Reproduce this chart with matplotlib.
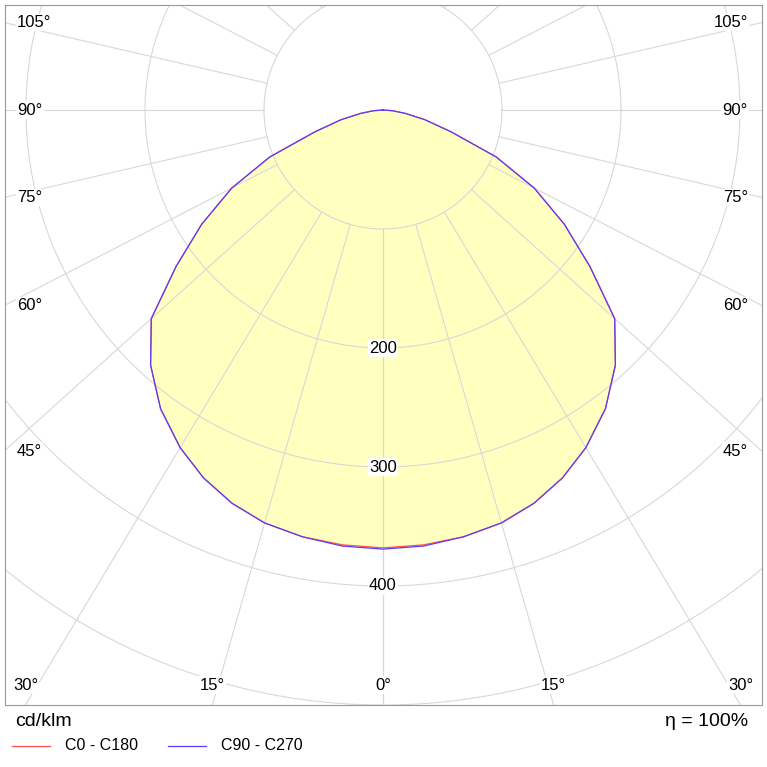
import numpy as np
import matplotlib.pyplot as plt

plt.rcParams['font.family'] = 'Liberation Sans'

# luminous intensity distribution, cd/klm, angle from nadir
angles = [0, 5, 10, 15, 20, 25, 30, 35, 40, 45, 50, 55, 60, 65, 70, 75, 80, 85, 90]
c0_c180 = [368, 367, 365, 361, 354, 344, 331, 313, 290, 262, 218, 180, 143, 103, 60, 36, 19, 8, 0]
c90_c270 = [369, 368, 365, 361, 354, 344, 331, 313, 290, 262, 218, 180, 143, 103, 60, 36, 19, 8, 0]
ring_labels = [200, 300, 400]
angle_labels = [0, 15, 30, 45, 60, 75, 90, 105]

# diagram's angle scale: gamma -> drawn angle below horizontal
gamma_ref = [0, 15, 30, 45, 60, 75, 90]
drawn_ref = [90, 74, 59, 42, 27.3, 13, 0]

def drawn(g):
    g = np.asarray(g, float)
    return np.where(g <= 90, np.interp(g, gamma_ref, drawn_ref),
                    -np.interp(180 - g, gamma_ref, drawn_ref))

W = H = 767
fig = plt.figure(figsize=(W / 100, H / 100), dpi=100)
s = 1.19  # px per cd/klm
cx, cy = 383, 110
left, right, top, bot = 5, 762, 5, 705
ax = fig.add_axes([left / W, 1 - bot / H, (right - left) / W, (bot - top) / H])
xmin, xmax = (left - cx) / s, (right - cx) / s
ymax, ymin = (cy - top) / s, (cy - bot) / s
ax.set_xlim(xmin, xmax)
ax.set_ylim(ymin, ymax)
ax.set_xticks([])
ax.set_yticks([])
for sp in ax.spines.values():
    sp.set_color('#999999')
    sp.set_linewidth(0.8)

def curve(vals):
    ph = np.radians(drawn(angles))
    r = np.array(vals, float)
    x = np.concatenate([-(r * np.cos(ph))[::-1], r * np.cos(ph)])
    y = np.concatenate([-(r * np.sin(ph))[::-1], -r * np.sin(ph)])
    return x, y

x1, y1 = curve(c0_c180)
x2, y2 = curve(c90_c270)
ax.fill(x2, y2, color='#ffffc0', zorder=1)

grid = '#d8d8d8'
t = np.linspace(0, 2 * np.pi, 400)
for r in range(100, 700, 100):
    ax.plot(r * np.cos(t), r * np.sin(t), color=grid, lw=0.8, zorder=2)
for a in range(0, 181, 15):
    ph = np.radians(float(drawn(a)))
    for sgn in (1, -1):
        ax.plot([sgn * 100 * np.cos(ph), sgn * 900 * np.cos(ph)],
                [-100 * np.sin(ph), -900 * np.sin(ph)], color=grid, lw=0.8, zorder=2)

ax.plot(x1, y1, color='#ff5050', lw=0.9, zorder=3)
ax.plot(x2, y2, color='#5a3cff', lw=0.9, zorder=4)

box = dict(facecolor='white', edgecolor='none', pad=1)
for v in ring_labels:
    ax.text(0, -v, str(v), ha='center', va='center', fontsize=12, zorder=5, bbox=box)

for a in angle_labels:
    ph = np.radians(float(drawn(a)))
    c, sn = np.cos(ph), np.sin(ph)
    tside = xmax / c if c > 1e-9 else np.inf
    tbot = -ymin / sn if sn > 1e-9 else np.inf
    if tside < tbot:
        yy = -sn * tside
        ax.text(xmax - 14 / s, yy, f'{a}°', ha='right', va='center', fontsize=12, zorder=5, bbox=box)
        ax.text(xmin + 12 / s, yy, f'{a}°', ha='left', va='center', fontsize=12, zorder=5, bbox=box)
    else:
        xx = c * tbot
        for sgn in ((1, -1) if a else (1,)):
            ax.text(sgn * xx, ymin + 20 / s, f'{a}°', ha='center', va='center', fontsize=12,
                    zorder=5, bbox=box)

fig.text(15 / W, 1 - 722 / H, 'cd/klm', fontsize=14, va='center', ha='left')
fig.text(748 / W, 1 - 722 / H, 'η = 100%', fontsize=14, va='center', ha='right')
fig.add_artist(plt.Line2D([12 / W, 50 / W], [1 - 746 / H] * 2, color='#ff5050', lw=0.9))
fig.text(65 / W, 1 - 746 / H, 'C0 - C180', fontsize=11.5, va='center')
fig.add_artist(plt.Line2D([168 / W, 206 / W], [1 - 746 / H] * 2, color='#5a3cff', lw=0.9))
fig.text(221 / W, 1 - 746 / H, 'C90 - C270', fontsize=11.5, va='center')

fig.savefig('out.png', dpi=100)
